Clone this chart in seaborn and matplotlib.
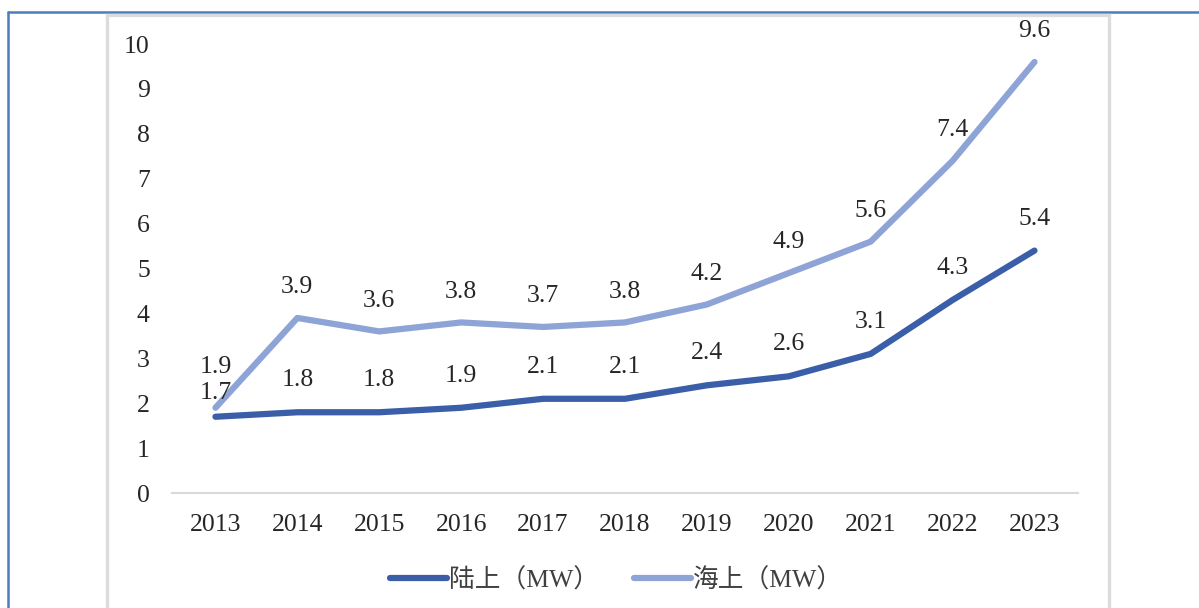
"""
风电单机容量趋势图（陆上 / 海上）
"""

import pandas as pd
import matplotlib.pyplot as plt
import seaborn as sns
from matplotlib.lines import Line2D
from matplotlib.patches import Rectangle

years = [2013, 2014, 2015, 2016, 2017, 2018, 2019, 2020, 2021, 2022, 2023]
onshore = [1.7, 1.8, 1.8, 1.9, 2.1, 2.1, 2.4, 2.6, 3.1, 4.3, 5.4]
offshore = [1.9, 3.9, 3.6, 3.8, 3.7, 3.8, 4.2, 4.9, 5.6, 7.4, 9.6]
series_names = ["陆上（MW）", "海上（MW）"]
colors = ["#3A5EA8", "#8EA4D6"]

sns.set_style("white")
plt.rcParams["font.family"] = ["Liberation Serif", "Noto Sans CJK SC"]

df = pd.DataFrame({"year": years, series_names[0]: onshore, series_names[1]: offshore})
long_df = df.melt(id_vars="year", var_name="type", value_name="mw")

fig = plt.figure(figsize=(11.99, 6.08), dpi=100)
ax = fig.add_axes([0.1435, 0.189, 0.7555, 0.7386])

sns.lineplot(data=long_df, x="year", y="mw", hue="type", palette=colors,
             hue_order=series_names, linewidth=4.5, ax=ax, sort=False,
             solid_capstyle="round")

# 数据标签
for i, (y, v_on, v_off) in enumerate(zip(years, onshore, offshore)):
    off_on = 23
    off_off = 22
    if i == 0:
        off_on = 17
        off_off = 29
    ax.annotate(f"{v_on}", (y, v_on), xytext=(0, off_on), textcoords="offset points",
                ha="center", va="center", fontsize=18.5, color="#262626")
    ax.annotate(f"{v_off}", (y, v_off), xytext=(0, off_off), textcoords="offset points",
                ha="center", va="center", fontsize=18.5, color="#262626")

ax.set_xlim(2012.47, 2023.53)
ax.set_ylim(0, 10)
ax.set_xticks(years)
ax.set_yticks(range(0, 11))
ax.tick_params(axis="both", length=0, labelsize=18.5, colors="#262626")
ax.tick_params(axis="y", pad=16)
ax.tick_params(axis="x", pad=15)
ax.set_xlabel("")
ax.set_ylabel("")
for s in ["top", "right", "left"]:
    ax.spines[s].set_visible(False)
ax.spines["bottom"].set_color("#D9D9D9")
ax.spines["bottom"].set_linewidth(1.5)

handles, labels = ax.get_legend_handles_labels()
ax.legend(handles, labels, loc="upper center", bbox_to_anchor=(0.491, -0.115),
          ncol=2, frameon=False, fontsize=18.5, handlelength=2.2,
          handletextpad=0.1, columnspacing=1.35, labelcolor="#404040")

# 外框
fig.add_artist(Line2D([8 / 1199, 8 / 1199], [0, 1 - 12 / 608], color="#4A7EBB",
                      linewidth=1.8, transform=fig.transFigure, zorder=-3))
fig.add_artist(Line2D([8 / 1199, 1], [1 - 12 / 608, 1 - 12 / 608], color="#4A7EBB",
                      linewidth=1.8, transform=fig.transFigure, zorder=-3))
fig.add_artist(Rectangle((107 / 1199, -0.05), (1109 - 107) / 1199, 1.05 - 14.5 / 608,
                         facecolor="white", edgecolor="#DCDCDF", linewidth=2.4,
                         transform=fig.transFigure, zorder=-1))
ax.set_zorder(2)
ax.patch.set_alpha(0)

fig.savefig("out.png", dpi=100)
